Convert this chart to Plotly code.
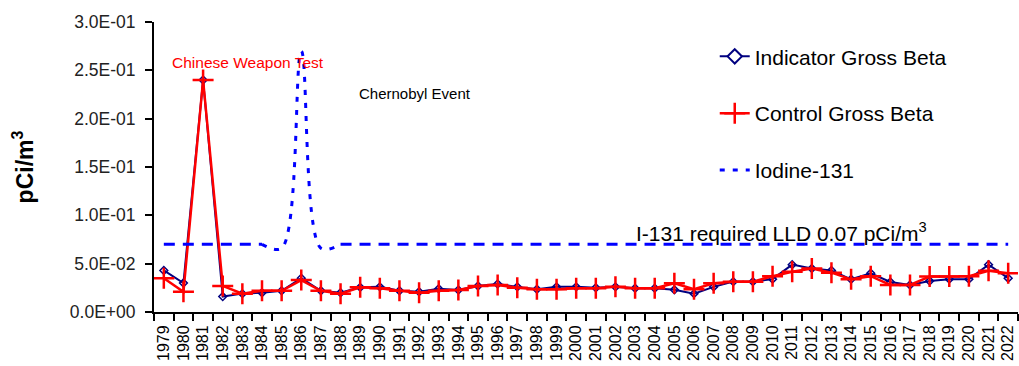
import plotly.graph_objects as go

years = [str(y) for y in range(1979, 2023)]

control = [0.035, 0.021, 0.240, 0.027, 0.019, 0.022, 0.022, 0.033, 0.022, 0.019,
           0.0255, 0.0245, 0.022, 0.020, 0.022, 0.0228, 0.0269, 0.028, 0.0252, 0.0235,
           0.0235, 0.0245, 0.0245, 0.026, 0.0245, 0.0245, 0.0297, 0.0235, 0.0297, 0.0314,
           0.0314, 0.037, 0.0417, 0.045, 0.0407, 0.0338, 0.037, 0.028, 0.028, 0.0366,
           0.0366, 0.037, 0.0427, 0.040]

indicator = [0.043, 0.030, 0.240, 0.016, 0.019, 0.020, 0.022, 0.035, 0.022, 0.020,
             0.0255, 0.026, 0.022, 0.021, 0.024, 0.0228, 0.0269, 0.029, 0.026, 0.0235,
             0.026, 0.026, 0.025, 0.026, 0.0245, 0.0245, 0.023, 0.019, 0.026, 0.0314,
             0.0314, 0.034, 0.049, 0.045, 0.043, 0.0338, 0.040, 0.031, 0.028, 0.032,
             0.034, 0.034, 0.049, 0.035]

iodine_years = ['1984', '1985', '1986', '1987', '1988']
iodine = [0.070, 0.066, 0.270, 0.066, 0.070]

lld_value = 0.07
lld = [lld_value if y not in ('1985', '1986', '1987') else None for y in years]

ytick_vals = [0, 0.05, 0.10, 0.15, 0.20, 0.25, 0.30]
ytick_text = ['0.0E+00', '5.0E-02', '1.0E-01', '1.5E-01', '2.0E-01', '2.5E-01', '3.0E-01']

FONT = 'Liberation Sans, Arial, sans-serif'
NAVY = '#000080'
RED = '#FF0000'
BLUE = '#0000FF'

fig = go.Figure()

# indicator data (small markers, legend via proxy below)
fig.add_trace(go.Scatter(
    x=years, y=indicator, name='Indicator Gross Beta', mode='lines+markers',
    line=dict(color=NAVY, width=2),
    marker=dict(symbol='diamond-open', size=6, color=NAVY, line=dict(width=1.5, color=NAVY)),
    legendgroup='a', showlegend=False))
fig.add_trace(go.Scatter(
    x=[None], y=[None], name='Indicator Gross Beta', mode='lines+markers',
    line=dict(color=NAVY, width=2),
    marker=dict(symbol='diamond', size=11, color='white', line=dict(width=2, color=NAVY)),
    legendgroup='a'))

fig.add_trace(go.Scatter(
    x=years, y=control, name='Control Gross Beta', mode='lines+markers',
    line=dict(color=RED, width=2.5),
    marker=dict(symbol='cross-thin', size=15, color=RED, line=dict(width=2.5, color=RED)),
    legendgroup='b'))

fig.add_trace(go.Scatter(
    x=iodine_years, y=iodine, name='Iodine-131', mode='lines',
    line=dict(color=BLUE, width=3, dash='5px,8px', shape='spline', smoothing=1),
    legendgroup='c'))

fig.add_trace(go.Scatter(
    x=years, y=lld, name='LLD', mode='lines', showlegend=False,
    line=dict(color=BLUE, width=3, dash='11px,8px'), connectgaps=False))

fig.add_annotation(text='Chinese Weapon Test', xref='paper', yref='y', x=0.1088, y=0.2576,
                   xanchor='center', yanchor='middle',
                   showarrow=False, font=dict(family=FONT, size=15.5, color=RED))
fig.add_annotation(text='Chernobyl Event', xref='paper', yref='y', x=0.302, y=0.2265,
                   xanchor='center', yanchor='middle',
                   showarrow=False, font=dict(family=FONT, size=15, color='#000000'))
fig.add_annotation(text='I-131 required LLD 0.07 pCi/m<sup>3</sup>', xref='paper', yref='y',
                   x=0.7257, y=0.0832, xanchor='center', yanchor='middle', showarrow=False,
                   font=dict(family=FONT, size=21, color='#000000'))

fig.update_layout(
    width=1019, height=366,
    margin=dict(l=154, r=1, t=22, b=54, autoexpand=False),
    paper_bgcolor='white', plot_bgcolor='white',
    font=dict(family=FONT, color='#000000'),
    showlegend=True,
    legend=dict(x=0.649, y=0.951, xanchor='left', yanchor='top',
                font=dict(family=FONT, size=21, color='#000000'),
                bgcolor='rgba(0,0,0,0)', tracegroupgap=26.5),
    xaxis=dict(type='category', range=[-0.5, 43.5], showgrid=False, zeroline=False,
               showline=True, linecolor='#000000', linewidth=2,
               tickmode='linear', tick0=0, dtick=1,
               ticks='outside', tickson='boundaries', ticklen=7, tickwidth=2, tickcolor='#000000',
               tickangle=-90, tickfont=dict(family=FONT, size=16, color='#000000'),
               ticklabelstandoff=5, automargin=False),
    yaxis=dict(range=[0, 0.3], showgrid=False, zeroline=False,
               showline=True, linecolor='#000000', linewidth=2,
               ticks='outside', ticklen=7, tickwidth=2, tickcolor='#000000',
               tickvals=ytick_vals, ticktext=ytick_text,
               tickfont=dict(family=FONT, size=17.5, color='#222222'),
               ticklabelstandoff=6,
               title=dict(text='<b>pCi/m<sup>3</sup></b>', standoff=30,
                          font=dict(family=FONT, size=23, color='#000000')),
               automargin=False),
)

fig.write_html('out.html')
